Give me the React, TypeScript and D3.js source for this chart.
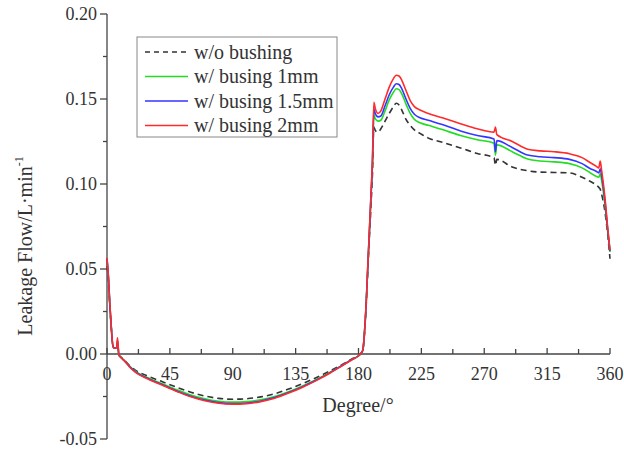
import React from "react";
import * as d3 from "d3";

const degrees = [0,1,2,3,4,5,6,7,7.5,8.5,10,13,16,20,30,40,50,60,70,80,90,100,110,120,130,140,150,160,170,175,180,183,185,187,189,190,191,192,194,196,199,202,205,207,209,211,214,217,220,224,230,240,253,265,277,278,279,290,301,310,320,331,340,346,350,352,353,354,356.5,358.5,360];

const noBushing = [0.052,0.043,0.028,0.016,0.006,0.0035,0.0035,0.004,0.006,-0.0005,
-0.0018,-0.004,-0.0067,-0.0093,-0.0133,-0.0164,-0.0196,-0.0225,-0.0247,-0.0261,
-0.0266,-0.0263,-0.0252,-0.0234,-0.0206,-0.0174,-0.0138,-0.0098,-0.0054,-0.003,
-0.001,0.002,0.021,0.055,0.088,0.106,0.1335,0.1315,0.1305,0.1325,
0.137,0.1415,0.1455,0.1475,0.1465,0.1435,0.138,0.1345,0.1318,0.1298,
0.127,0.1245,0.1212,0.118,0.1155,0.111,0.1145,0.11,0.1078,0.107,
0.1068,0.1065,0.104,0.1015,0.0995,0.098,0.097,0.094,0.083,0.069,
0.056];

const bushing1 = [0.0555,0.045,0.029,0.0165,0.006,0.0035,0.0035,0.004,0.007,-0.0005,
-0.0019,-0.0043,-0.0071,-0.0099,-0.0143,-0.0177,-0.0211,-0.0241,-0.0264,-0.0278,
-0.0283,-0.028,-0.0269,-0.025,-0.0222,-0.0188,-0.015,-0.0106,-0.0058,-0.0033,
-0.001,0.002,0.022,0.057,0.093,0.111,0.1405,0.1385,0.137,0.1375,
0.143,0.1495,0.154,0.156,0.1555,0.153,0.147,0.1415,0.138,0.136,
0.1345,0.132,0.1285,0.126,0.124,0.117,0.123,0.119,0.1147,0.1135,
0.113,0.112,0.1095,0.1065,0.1045,0.104,0.106,0.102,0.087,0.071,
0.06];

const bushing15 = [0.056,0.0455,0.0295,0.0165,0.006,0.0035,0.0035,0.004,0.008,-0.0005,
-0.002,-0.0045,-0.0073,-0.0102,-0.0147,-0.0182,-0.0217,-0.0248,-0.0271,-0.0286,
-0.0291,-0.0288,-0.0276,-0.0256,-0.0227,-0.0192,-0.0153,-0.0108,-0.0059,-0.0034,
-0.001,0.002,0.022,0.058,0.094,0.113,0.144,0.1415,0.1395,0.14,
0.146,0.1525,0.157,0.159,0.1585,0.156,0.15,0.1445,0.141,0.139,
0.1375,0.135,0.1312,0.1285,0.1265,0.119,0.1255,0.1215,0.117,0.116,
0.1155,0.1145,0.112,0.109,0.1075,0.1065,0.109,0.105,0.089,0.072,
0.0605];

const bushing2 = [0.0565,0.046,0.03,0.017,0.006,0.0035,0.0035,0.004,0.0095,-0.0005,
-0.002,-0.0045,-0.0075,-0.0105,-0.015,-0.0185,-0.022,-0.0252,-0.0275,-0.029,
-0.0295,-0.0292,-0.028,-0.026,-0.023,-0.0195,-0.0155,-0.011,-0.006,-0.0035,
-0.001,0.002,0.022,0.058,0.095,0.115,0.148,0.1445,0.1415,0.143,
0.15,0.157,0.162,0.164,0.1635,0.161,0.155,0.149,0.1455,0.1435,
0.1415,0.139,0.1355,0.1325,0.1305,0.1335,0.129,0.125,0.1205,0.1195,
0.119,0.1178,0.1155,0.1125,0.1105,0.1095,0.1135,0.108,0.091,0.073,
0.061];

const xTicks = [0,45,90,135,180,225,270,315,360];
const xMinor = [22.5,67.5,112.5,157.5,202.5,247.5,292.5,337.5];
const yTicks = [-0.05,0,0.05,0.1,0.15,0.2];
const yMinor = [-0.025,0.025,0.075,0.125,0.175];

const seriesNames = ["w/o bushing","w/ busing 1mm","w/ busing 1.5mm","w/ busing 2mm"];
const seriesData = [noBushing, bushing1, bushing15, bushing2];
const seriesColors = ["#333333","#22dd22","#3535ff","#ff2a2a"];
const seriesDash = ["6,4",null,null,null];

export default function App() {
  const W = 624, H = 451;
  const x = d3.scaleLinear().domain([0,360]).range([107,610]);
  const y = d3.scaleLinear().domain([-0.05,0.2]).range([439,14]);
  const line = d3.line<number>()
    .x((_, i) => x(degrees[i]))
    .y((v) => y(v))
    .curve(d3.curveMonotoneX);
  const axisColor = "#444";
  const textColor = "#333";
  const font = "'Liberation Serif', 'Times New Roman', serif";
  const y0 = y(0);
  return (
    <svg width={W} height={H} style={{position:"absolute",left:0,top:0,background:"#fff"}} fontFamily={font}>
      {/* Y axis */}
      <line x1={x(0)} x2={x(0)} y1={y(-0.05)} y2={y(0.2)} stroke={axisColor} strokeWidth={1.3}/>
      {yTicks.map(t => (
        <g key={"yt"+t}>
          <line x1={x(0)-7} x2={x(0)} y1={y(t)} y2={y(t)} stroke={axisColor} strokeWidth={1.3}/>
          <text x={x(0)-10} y={y(t)} dy="0.35em" textAnchor="end" fontSize={18} fill={textColor}>{t.toFixed(2)}</text>
        </g>
      ))}
      {yMinor.map(t => (
        <line key={"ym"+t} x1={x(0)-4} x2={x(0)} y1={y(t)} y2={y(t)} stroke={axisColor} strokeWidth={1.3}/>
      ))}
      {/* X axis at zero */}
      <line x1={x(0)} x2={x(360)} y1={y0} y2={y0} stroke={axisColor} strokeWidth={1.3}/>
      {xTicks.map(t => (
        <g key={"xt"+t}>
          <line x1={x(t)} x2={x(t)} y1={y0} y2={y0-6} stroke={axisColor} strokeWidth={1.3}/>
          <text x={x(t)} y={380} textAnchor="middle" fontSize={18} fill={textColor}>{t}</text>
        </g>
      ))}
      {xMinor.map(t => (
        <line key={"xm"+t} x1={x(t)} x2={x(t)} y1={y0} y2={y0-5} stroke={axisColor} strokeWidth={1.3}/>
      ))}
      {/* Series */}
      {seriesData.map((d, i) => (
        <path key={"s"+i} d={line(d) || ""} fill="none" stroke={seriesColors[i]} strokeWidth={1.6}
          strokeDasharray={seriesDash[i] || undefined}/>
      ))}
      {/* Axis titles */}
      <text x={358} y={412} textAnchor="middle" fontSize={20} fill={textColor}>Degree/°</text>
      <text transform={`translate(32,246) rotate(-90)`} textAnchor="middle" fontSize={20} fill={textColor}>
        Leakage Flow/L·min<tspan dy={-9} fontSize={12}>-1</tspan>
      </text>
      {/* Legend */}
      <rect x={137} y={37} width={200} height={100} fill="#fff" stroke="#888" strokeWidth={1}/>
      {seriesNames.map((n, i) => {
        const ly = 52 + i * 24.5;
        return (
          <g key={"lg"+i}>
            <line x1={145} x2={188} y1={ly} y2={ly} stroke={seriesColors[i]} strokeWidth={1.6}
              strokeDasharray={seriesDash[i] ? "5,4" : undefined}/>
            <text x={194} y={ly} dy="0.33em" fontSize={20} fill={textColor}>{n}</text>
          </g>
        );
      })}
    </svg>
  );
}
